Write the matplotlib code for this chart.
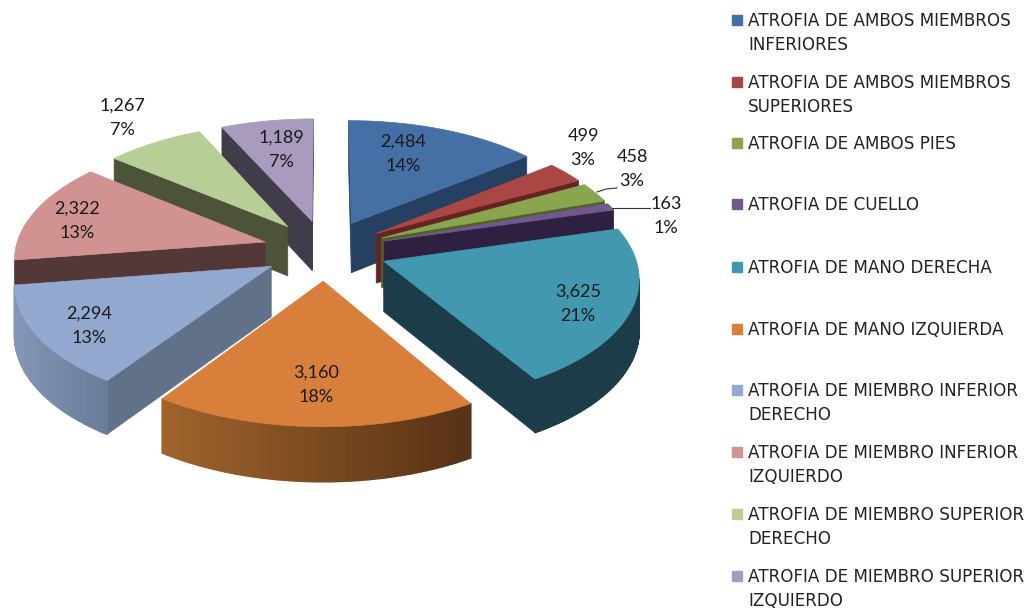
import numpy as np
import matplotlib
matplotlib.use('Agg')
import matplotlib.pyplot as plt
from matplotlib.patches import Polygon

categorias = ['ATROFIA DE AMBOS MIEMBROS\nINFERIORES', 'ATROFIA DE AMBOS MIEMBROS\nSUPERIORES',
              'ATROFIA DE AMBOS PIES', 'ATROFIA DE CUELLO', 'ATROFIA DE MANO DERECHA',
              'ATROFIA DE MANO IZQUIERDA', 'ATROFIA DE MIEMBRO INFERIOR\nDERECHO',
              'ATROFIA DE MIEMBRO INFERIOR\nIZQUIERDO', 'ATROFIA DE MIEMBRO SUPERIOR\nDERECHO',
              'ATROFIA DE MIEMBRO SUPERIOR\nIZQUIERDO']
valores = [2484, 499, 458, 163, 3625, 3160, 2294, 2322, 1267, 1189]
porcentajes = ['14%', '3%', '3%', '1%', '21%', '18%', '13%', '13%', '7%', '7%']

col_tapa = ['#4570a5', '#aa4643', '#89a54e', '#71588f', '#4198af', '#d8803b', '#93a9cf', '#d19392', '#b9cd96', '#a99bbd']
col_pared = ['#254061', '#632423', '#4f6228', '#2e2040', '#1b3c48', '#8a5224', '#617189', '#543838', '#4d5338', '#413c4a']
# color del borde curvo, de izquierda a derecha
col_arco_izq = ['#254061', '#632423', '#4f6228', '#2e2040', '#1b3c48', '#a0642c', '#8497b8', '#543838', '#4d5338', '#413c4a']
col_arco_der = ['#254061', '#632423', '#4f6228', '#2e2040', '#1b3c48', '#573216', '#6a7c98', '#543838', '#4d5338', '#413c4a']

pos_etiq = [(403, 154), (583, 148), (632, 169), (666, 216), (578, 304), (316, 385), (89, 326), (77, 221), (122, 118), (281, 150)]
y_leyenda = [20, 82, 143, 204, 267, 329, 390, 452, 514, 576]

cx, cy = 325, 250
R, Ry = 250, 120.7
p = 0.117
expl = 0.25
alto = 50


def proy(x, y):
    s = 1 / (1 + p * y)
    return cx + R * x * s, cy - Ry * y * s, s ** 0.6


def mezcla(c1, c2, t):
    a = np.array(matplotlib.colors.to_rgb(c1))
    b = np.array(matplotlib.colors.to_rgb(c2))
    return a + (b - a) * t


def area(q):
    q = np.array(q)
    return 0.5 * np.sum(q[:, 0] * np.roll(q[:, 1], -1) - np.roll(q[:, 0], -1) * q[:, 1])


fig = plt.figure(figsize=(10.31, 6.12), dpi=100)
ax = fig.add_axes([0, 0, 1, 1])
ax.set_xlim(0, 1031)
ax.set_ylim(612, 0)
ax.axis('off')

total = sum(valores)
acum = np.cumsum([0] + valores) / total * 2 * np.pi
medios = (acum[:-1] + acum[1:]) / 2
orden = np.argsort(-np.cos(medios))

for i in orden:
    a0, a1, am = acum[i], acum[i + 1], medios[i]
    ox, oy = expl * np.sin(am), expl * np.cos(am)
    angs = np.linspace(a0, a1, 60)
    arco = [proy(ox + np.sin(a), oy + np.cos(a)) for a in angs]
    ap = proy(ox, oy)
    # paredes rectas (solo las que miran a la camara)
    for ext, sg in ((arco[0], 1), (arco[-1], -1)):
        q = [(ap[0], ap[1]), (ext[0], ext[1]), (ext[0], ext[1] + alto * ext[2]), (ap[0], ap[1] + alto * ap[2])]
        if sg * area(q) < 0:
            ax.add_patch(Polygon(q, fc=col_pared[i], ec=col_pared[i], lw=0.5))
    # pared curva por tramos
    xs = [a[0] for a in arco]
    for u, v in zip(arco[:-1], arco[1:]):
        q = [(u[0], u[1]), (v[0], v[1]), (v[0], v[1] + alto * v[2]), (u[0], u[1] + alto * u[2])]
        if area(q) < 0:
            t = (u[0] - min(xs)) / (max(xs) - min(xs))
            c = mezcla(col_arco_izq[i], col_arco_der[i], t)
            ax.add_patch(Polygon(q, fc=c, ec=c, lw=1.2, joinstyle='round'))
    tapa = [(ap[0], ap[1])] + [(a[0], a[1]) for a in arco]
    ax.add_patch(Polygon(tapa, fc=col_tapa[i], ec=col_tapa[i], lw=0.5))

fuente = 'Lato'
for (x, y), v, pc in zip(pos_etiq, valores, porcentajes):
    ax.text(x, y - 12, f'{v:,}', ha='center', va='center', fontsize=13, family=fuente, color='#1a1a1a')
    ax.text(x, y + 12, pc, ha='center', va='center', fontsize=13, family=fuente, color='#1a1a1a')

ax.plot([597, 606, 617], [192, 189, 188], color='#333333', lw=0.8)
ax.plot([612, 650], [208, 208], color='#333333', lw=0.8)

for c, y, nom in zip(col_tapa, y_leyenda, categorias):
    ax.plot([737], [y], marker='s', ms=7, color=c, ls='none')
    for k, linea in enumerate(nom.split('\n')):
        ax.text(748, y + 1 + k * 24, linea, ha='left', va='center', fontsize=12.1, family='DejaVu Sans', color='#222222')

fig.savefig('out.png', dpi=100)
